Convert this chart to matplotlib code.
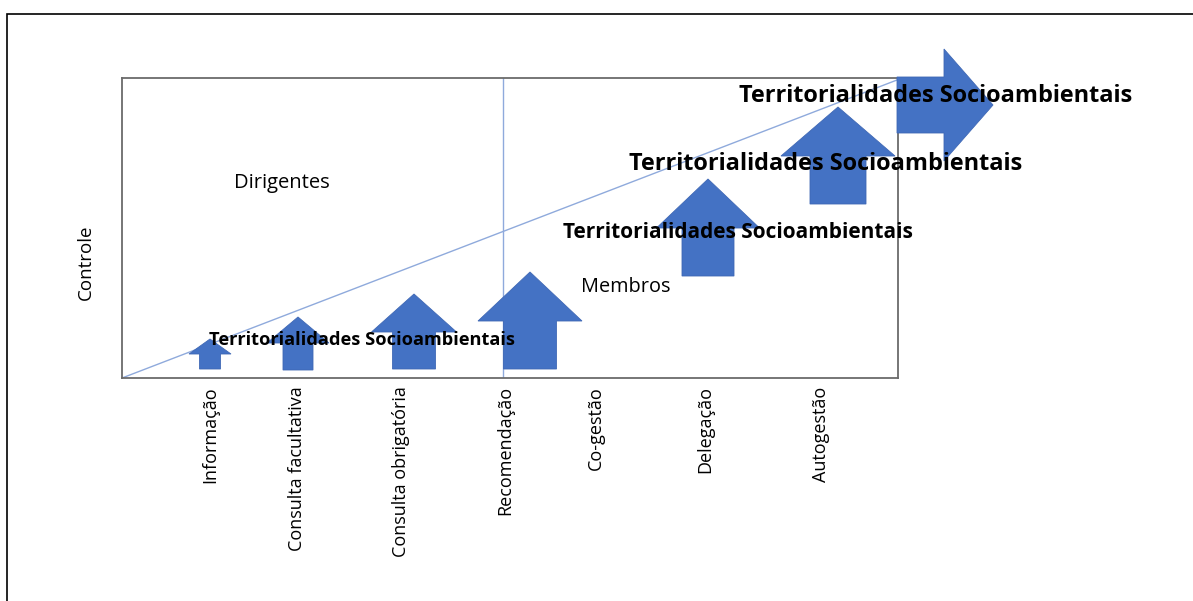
import matplotlib
matplotlib.use('Agg')
import matplotlib.pyplot as plt

plt.rcParams['font.family'] = ['Open Sans', 'DejaVu Sans']

# degrees of participation (x axis) and their positions (px in the picture)
categories = ['Informação', 'Consulta facultativa', 'Consulta obrigatória',
              'Recomendação', 'Co-gestão', 'Delegação', 'Autogestão']
cat_x = [210, 297, 401, 505, 596, 705, 821]

# up arrows: centre, tip, neck (head base), foot, shaft width, head width
up_x = [210, 298, 414, 530, 708, 838]
up_tip = [339, 317, 294, 272, 179, 107]
up_neck = [354, 343, 332, 321, 228, 156]
up_foot = [369, 370, 369, 369, 276, 204]
up_shaft = [21, 30, 43, 53, 52, 56]
up_head = [42, 62, 85, 104, 103, 114]

# final right arrow: row, tail, neck, tip, shaft width, head width
right_y = 105
right_tail, right_neck, right_tip = 897, 944, 993
right_shaft, right_head = 56, 112

# "Territorialidades Socioambientais" labels: left x, baseline y, size
terr_label = 'Territorialidades Socioambientais'
terr_x = [209, 563, 629, 739]
terr_y = [345, 238, 170, 102]
terr_size = [13.15, 15.0, 16.9, 16.9]

W, H = 1193, 601
BLUE = '#4472C4'
LINE = '#8FAADC'

fig = plt.figure(figsize=(W / 100, H / 100), dpi=100)
fig.patch.set_facecolor('white')

# outer frame (right and bottom run off the picture)
fig.patches.append(plt.Rectangle((7.5 / W, -0.2), 2, (H - 13.5) / H + 0.2,
                                 transform=fig.transFigure, fill=False,
                                 ec='black', lw=1.2))

x0, x1, y0, y1 = 122, 898, 78, 378
ax = fig.add_axes([x0 / W, (H - y1) / H, (x1 - x0) / W, (y1 - y0) / H])
ax.set_xlim(x0, x1)
ax.set_ylim(y1, y0)
for s in ax.spines.values():
    s.set_color('#6b6b6b')
    s.set_linewidth(1.3)

ax.set_xticks(cat_x)
ax.set_xticklabels(categories, rotation=90, fontsize=13, va='top', ha='center')
ax.tick_params(axis='x', length=0, pad=6)
ax.set_yticks([])

ax.set_ylabel('Controle', fontsize=13.5)
ax.yaxis.label.set_va('center')
ax.yaxis.set_label_coords((86 - x0) / (x1 - x0), (y1 - 262) / (y1 - y0))

# dividing line and diagonal
ax.plot([503, 503], [y0, y1], color=LINE, lw=1)
ax.plot([x0, 897], [y1, 80], color=LINE, lw=1)

for cx, tip, neck, foot, sw, hw in zip(up_x, up_tip, up_neck, up_foot,
                                       up_shaft, up_head):
    ax.arrow(cx, foot, 0, tip - foot, width=sw, head_width=hw,
             head_length=neck - tip, length_includes_head=True,
             fc=BLUE, ec='#3f68b5', lw=0.6, zorder=3, clip_on=False)

ax.arrow(right_tail, right_y, right_tip - right_tail, 0, width=right_shaft,
         head_width=right_head, head_length=right_tip - right_neck,
         length_includes_head=True, fc=BLUE, ec='#3f68b5', lw=0.6,
         zorder=3, clip_on=False)

ax.text(282, 188, 'Dirigentes', fontsize=14.5, ha='center', va='baseline')
ax.text(626, 292, 'Membros', fontsize=14.3, ha='center', va='baseline')

for tx, ty, fs in zip(terr_x, terr_y, terr_size):
    ax.text(tx, ty, terr_label, fontsize=fs, fontweight='bold',
            ha='left', va='baseline', zorder=5, clip_on=False)

fig.savefig('out.png', dpi=100)
